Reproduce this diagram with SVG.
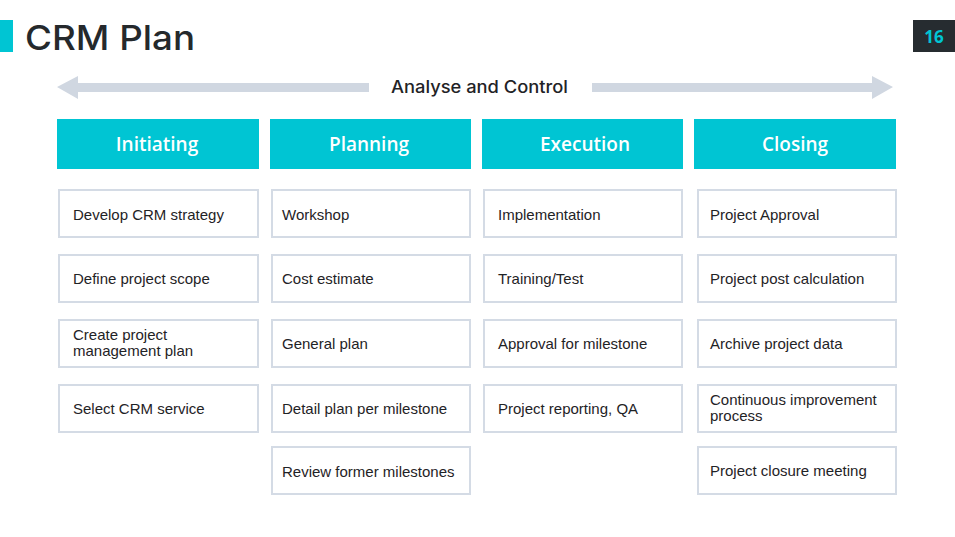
<svg xmlns="http://www.w3.org/2000/svg" width="955" height="537" viewBox="0 0 955 537">
<style>
.hdr{fill:#00c5d3}
.hdrt{font-family:"Open Sans","Noto Sans",sans-serif;font-weight:600;font-size:19px;fill:#ffffff;text-anchor:middle}
.box{fill:#ffffff;stroke:#d4dbe5;stroke-width:2}
.it{font-family:"Liberation Sans",Arial,sans-serif;font-size:15px;fill:#1f2326}
.arr{fill:#d0d7e1}
</style>
<rect width="955" height="537" fill="#ffffff"/>
<g id="title">
<rect x="0" y="20" width="13" height="32" fill="#00c5d3"/>
<text x="25" y="50" font-family="Inter,'Open Sans',sans-serif" font-weight="500" font-size="34" fill="#25292c" textLength="170" lengthAdjust="spacingAndGlyphs">CRM Plan</text>
</g>
<g id="page-number">
<rect x="913" y="20" width="42" height="32" fill="#262c30"/>
<text x="934" y="43" font-family="'Open Sans','Noto Sans',sans-serif" font-weight="700" font-size="17" fill="#00c5d3" text-anchor="middle">16</text>
</g>
<g id="connectors">
<polygon class="arr" points="57,87 78,76 78,83 369,83 369,92 78,92 78,99"/>
<polygon class="arr" points="893,87 872,76 872,83 592,83 592,92 872,92 872,99"/>
</g>
<g id="analyse-label">
<text x="391" y="93" font-family="Inter,'Open Sans',sans-serif" font-weight="500" font-size="17" fill="#1f2326" textLength="177" lengthAdjust="spacingAndGlyphs">Analyse and Control</text>
</g>
<g id="hdr-initiating"><rect class="hdr" x="57" y="119" width="202" height="50"/><text class="hdrt" x="157" y="151">Initiating</text></g>
<g id="hdr-planning"><rect class="hdr" x="270" y="119" width="201" height="50"/><text class="hdrt" x="369" y="151">Planning</text></g>
<g id="hdr-execution"><rect class="hdr" x="482" y="119" width="201" height="50"/><text class="hdrt" x="585" y="151">Execution</text></g>
<g id="hdr-closing"><rect class="hdr" x="694" y="119" width="202" height="50"/><text class="hdrt" x="795" y="151">Closing</text></g>

<g id="i1-1"><rect class="box" x="59" y="190" width="199" height="47"/><text class="it" x="73" y="220">Develop CRM strategy</text></g>
<g id="i1-2"><rect class="box" x="59" y="255" width="199" height="47"/><text class="it" x="73" y="284">Define project scope</text></g>
<g id="i1-3"><rect class="box" x="59" y="320" width="199" height="47"/><text class="it" x="73" y="340">Create project</text><text class="it" x="73" y="356">management plan</text></g>
<g id="i1-4"><rect class="box" x="59" y="385" width="199" height="47"/><text class="it" x="73" y="414">Select CRM service</text></g>

<g id="i2-1"><rect class="box" x="272" y="190" width="198" height="47"/><text class="it" x="282" y="220">Workshop</text></g>
<g id="i2-2"><rect class="box" x="272" y="255" width="198" height="47"/><text class="it" x="282" y="284">Cost estimate</text></g>
<g id="i2-3"><rect class="box" x="272" y="320" width="198" height="47"/><text class="it" x="282" y="349">General plan</text></g>
<g id="i2-4"><rect class="box" x="272" y="385" width="198" height="47"/><text class="it" x="282" y="414">Detail plan per milestone</text></g>
<g id="i2-5"><rect class="box" x="272" y="447" width="198" height="47"/><text class="it" x="282" y="477">Review former milestones</text></g>

<g id="i3-1"><rect class="box" x="484" y="190" width="198" height="47"/><text class="it" x="498" y="220">Implementation</text></g>
<g id="i3-2"><rect class="box" x="484" y="255" width="198" height="47"/><text class="it" x="498" y="284">Training/Test</text></g>
<g id="i3-3"><rect class="box" x="484" y="320" width="198" height="47"/><text class="it" x="498" y="349">Approval for milestone</text></g>
<g id="i3-4"><rect class="box" x="484" y="385" width="198" height="47"/><text class="it" x="498" y="414">Project reporting, QA</text></g>

<g id="i4-1"><rect class="box" x="698" y="190" width="198" height="47"/><text class="it" x="710" y="220">Project Approval</text></g>
<g id="i4-2"><rect class="box" x="698" y="255" width="198" height="47"/><text class="it" x="710" y="284">Project post calculation</text></g>
<g id="i4-3"><rect class="box" x="698" y="320" width="198" height="47"/><text class="it" x="710" y="349">Archive project data</text></g>
<g id="i4-4"><rect class="box" x="698" y="385" width="198" height="47"/><text class="it" x="710" y="405">Continuous improvement</text><text class="it" x="710" y="421">process</text></g>
<g id="i4-5"><rect class="box" x="698" y="447" width="198" height="47"/><text class="it" x="710" y="476">Project closure meeting</text></g>
</svg>
